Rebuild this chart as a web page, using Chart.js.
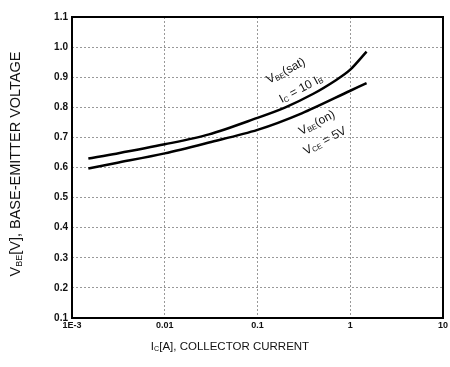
<!DOCTYPE html>
<html lang="en">
<head>
  <meta charset="UTF-8" />
  <title>VBE vs IC</title>
  <script src="https://cdn.jsdelivr.net/npm/chart.js"></script>
  <style>
    html, body { margin: 0; padding: 0; background: #fff; }
    #wrap { width: 450px; height: 367px; }
  </style>
</head>
<body>
  <div id="wrap"><canvas id="vbeChart" width="450" height="367"></canvas></div>

  <script>
    // collector current (A) and base-emitter voltage (V)
    const icSat = [0.0015, 0.003, 0.01, 0.03, 0.1, 0.2, 0.4, 0.7, 1, 1.5];
    const vbeSat = [0.63, 0.646, 0.677, 0.71, 0.765, 0.80, 0.845, 0.89, 0.925, 0.985];
    const icOn = [0.0015, 0.003, 0.01, 0.03, 0.1, 0.3, 1, 1.5];
    const vbeOn = [0.597, 0.615, 0.647, 0.683, 0.725, 0.78, 0.855, 0.88];

    const xTickVals = [0.001, 0.01, 0.1, 1, 10];
    const xTickText = ['1E-3', '0.01', '0.1', '1', '10'];

    // text with subscripts: [text, isSub]
    function drawRich(ctx, parts, size) {
      let w = 0;
      parts.forEach(p => {
        ctx.font = (p[1] ? size * 0.62 : size) + 'px Arial, "Liberation Sans", sans-serif';
        w += ctx.measureText(p[0]).width;
      });
      let x = -w / 2;
      parts.forEach(p => {
        ctx.font = (p[1] ? size * 0.62 : size) + 'px Arial, "Liberation Sans", sans-serif';
        ctx.fillText(p[0], x, p[1] ? size * 0.22 : 0);
        x += ctx.measureText(p[0]).width;
      });
    }

    function label(ctx, x, y, angle, parts, size) {
      ctx.save();
      ctx.translate(x, y);
      ctx.rotate(angle * Math.PI / 180);
      ctx.textBaseline = 'middle';
      ctx.fillStyle = '#111';
      drawRich(ctx, parts, size);
      ctx.restore();
    }

    const decor = {
      id: 'decor',
      afterDraw(chart) {
        const ctx = chart.ctx;
        const a = chart.chartArea;
        ctx.save();
        ctx.strokeStyle = '#000';
        ctx.lineWidth = 2;
        ctx.strokeRect(a.left, a.top, a.right - a.left, a.bottom - a.top);
        ctx.restore();

        label(ctx, 16, 164, -90, [['V', 0], ['BE', 1], ['[V], BASE-EMITTER VOLTAGE', 0]], 14.5);
        label(ctx, 230, 347, 0, [['I', 0], ['C', 1], ['[A], COLLECTOR CURRENT', 0]], 11.5);

        label(ctx, 286, 71, -28, [['V', 0], ['BE', 1], ['(sat)', 0]], 12);
        label(ctx, 301, 89, -28, [['I', 0], ['C', 1], [' = 10 I', 0], ['B', 1]], 12);
        label(ctx, 317, 123, -28, [['V', 0], ['BE', 1], ['(on)', 0]], 12);
        label(ctx, 325, 141, -28, [['V', 0], ['CE', 1], [' = 5V', 0]], 12);
      }
    };

    const lineStyle = {
      borderColor: '#000',
      borderWidth: 2.5,
      pointRadius: 0,
      fill: false,
      tension: 0.3
    };

    new Chart(document.getElementById('vbeChart'), {
      type: 'line',
      data: {
        datasets: [
          Object.assign({ label: 'VBE(sat)', data: icSat.map((x, i) => ({ x: x, y: vbeSat[i] })) }, lineStyle),
          Object.assign({ label: 'VBE(on)', data: icOn.map((x, i) => ({ x: x, y: vbeOn[i] })) }, lineStyle)
        ]
      },
      options: {
        responsive: false,
        animation: false,
        layout: { padding: { left: 0, top: 17, right: 7, bottom: 0 } },
        plugins: { legend: { display: false }, tooltip: { enabled: false } },
        scales: {
          x: {
            type: 'logarithmic',
            min: 0.001,
            max: 10,
            afterFit(scale) { scale.height = 49; },
            afterBuildTicks(scale) { scale.ticks = xTickVals.map(v => ({ value: v })); },
            ticks: {
              autoSkip: false,
              maxRotation: 0,
              padding: 2,
              color: '#111',
              font: { family: 'Arial', size: 9, weight: 'bold' },
              callback: (v) => xTickText[xTickVals.indexOf(v)]
            },
            grid: { color: '#999', drawTicks: false, lineWidth: 1 },
            border: { display: false, dash: [2, 2] }
          },
          y: {
            min: 0.1,
            max: 1.1,
            afterFit(scale) { scale.width = 72; },
            ticks: {
              stepSize: 0.1,
              padding: 4,
              color: '#111',
              font: { family: 'Arial', size: 10, weight: 'bold' },
              callback: (v) => Number(v).toFixed(1)
            },
            grid: { color: '#999', drawTicks: false, lineWidth: 1 },
            border: { display: false, dash: [2, 2] }
          }
        }
      },
      plugins: [decor]
    });
  </script>
</body>
</html>
